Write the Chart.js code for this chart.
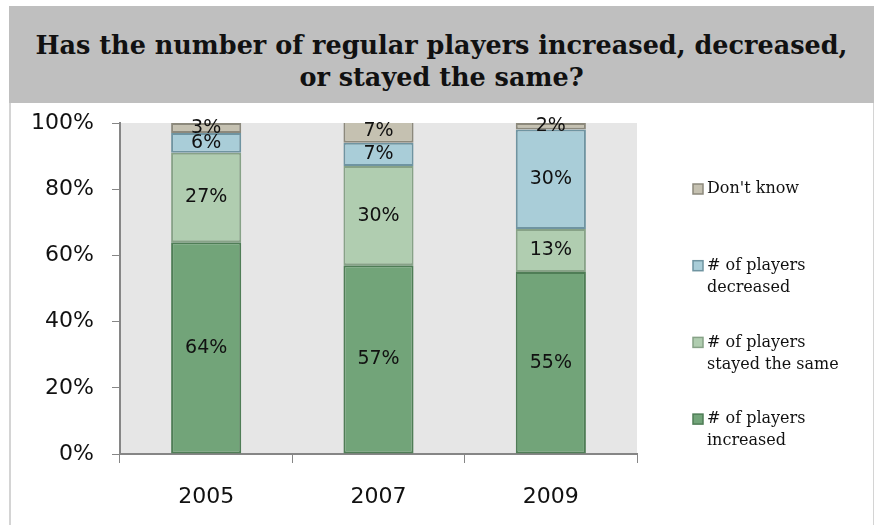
<!DOCTYPE html>
<html>
<head>
<meta charset="utf-8">
<title>Regular players</title>
<script src="https://cdn.jsdelivr.net/npm/chart.js@4.4.1/dist/chart.umd.min.js"></script>
<style>
  html, body { margin: 0; padding: 0; background: #fff; }
  #wrap { position: relative; width: 874px; height: 525px; overflow: hidden; }
  #panel {
    position: absolute; left: 9px; top: 103px; width: 862px; height: 430px;
    border-left: 2px solid #d4d4d4; border-right: 2px solid #d4d4d4;
  }
  #head {
    position: absolute; left: 9px; top: 6px; width: 865px; height: 97px;
    background: #bfbfbf; box-sizing: border-box; padding-top: 23px;
    font: bold 25.5px/32px "DejaVu Serif", serif; color: #111; text-align: center;
  }
  #myChart { position: absolute; left: 0; top: 0; }
</style>
</head>
<body>
<div id="wrap">
  <div id="panel"></div>
  <div id="head">Has the number of regular players increased, decreased,<br>or stayed the same?</div>
  <canvas id="myChart" width="874" height="525"></canvas>
</div>
<script>
var years = ['2005', '2007', '2009'];
var increased = [64, 57, 55];
var stayedSame = [27, 30, 13];
var decreased = [6, 7, 30];
var dontKnow = [3, 7, 2];
var yTicks = [0, 20, 40, 60, 80, 100];

var legendLines = {
    "Don't know": ["Don't know"],
    '# of players decreased': ['# of players', 'decreased'],
    '# of players stayed the same': ['# of players', 'stayed the same'],
    '# of players increased': ['# of players', 'increased']
};

// grey plot background
var plotBg = {
    id: 'plotBg',
    beforeDraw: function (chart) {
        var a = chart.chartArea, ctx = chart.ctx;
        ctx.save();
        ctx.fillStyle = '#e6e6e6';
        ctx.fillRect(a.left, a.top, a.right - a.left, a.bottom - a.top);
        ctx.restore();
    }
};

// percentage text in the middle of each segment
var segLabels = {
    id: 'segLabels',
    afterDatasetsDraw: function (chart) {
        var ctx = chart.ctx;
        ctx.save();
        ctx.font = '19px "DejaVu Sans"';
        ctx.fillStyle = '#111';
        ctx.textAlign = 'center';
        ctx.textBaseline = 'middle';
        chart.data.datasets.forEach(function (ds, i) {
            chart.getDatasetMeta(i).data.forEach(function (bar, j) {
                var c = bar.getCenterPoint();
                ctx.fillText(ds.data[j] + '%', c.x, c.y);
            });
        });
        ctx.restore();
    }
};

// legend on the right, top item = last series
var sideLegend = {
    id: 'sideLegend',
    afterDraw: function (chart) {
        var ctx = chart.ctx;
        var x = chart.chartArea.right + 56;
        var y0 = 189, step = 76.7, lh = 22;
        ctx.save();
        ctx.font = '16px "DejaVu Serif"';
        ctx.textBaseline = 'middle';
        ctx.textAlign = 'left';
        var sets = chart.data.datasets.slice().reverse();
        sets.forEach(function (ds, i) {
            var y = y0 + i * step;
            ctx.fillStyle = ds.backgroundColor;
            ctx.fillRect(x, y - 5, 10, 10);
            ctx.strokeStyle = ds.borderColor;
            ctx.lineWidth = 1.5;
            ctx.strokeRect(x, y - 5, 10, 10);
            ctx.fillStyle = '#111';
            legendLines[ds.label].forEach(function (t, k) {
                ctx.fillText(t, x + 14, y + k * lh);
            });
        });
        ctx.restore();
    }
};

var cvas = document.getElementById('myChart').getContext('2d');
var myChart = new Chart(cvas, {
    type: 'bar',
    data: {
        labels: years,
        datasets: [{
            label: '# of players increased',
            data: increased,
            backgroundColor: '#72a479',
            borderColor: '#4f7d56'
        }, {
            label: '# of players stayed the same',
            data: stayedSame,
            backgroundColor: '#b0cdb0',
            borderColor: '#87a287'
        }, {
            label: '# of players decreased',
            data: decreased,
            backgroundColor: '#a9cdd8',
            borderColor: '#6f94a1'
        }, {
            label: "Don't know",
            data: dontKnow,
            backgroundColor: '#c5c1b1',
            borderColor: '#8c897c'
        }]
    },
    options: {
        responsive: false,
        animation: false,
        events: [],
        datasets: {
            bar: {
                barPercentage: 0.407,
                categoryPercentage: 1,
                borderWidth: 2,
                borderSkipped: false
            }
        },
        layout: {
            padding: { top: 123, right: 237, bottom: 0, left: 0 }
        },
        plugins: {
            legend: { display: false },
            tooltip: { enabled: false },
            title: { display: false }
        },
        scales: {
            x: {
                stacked: true,
                afterFit: function (s) { s.height = 71; },
                grid: {
                    drawOnChartArea: false,
                    tickLength: 9,
                    tickColor: '#868686',
                    offset: true
                },
                border: { color: '#868686', width: 2 },
                ticks: {
                    padding: 21,
                    color: '#111',
                    font: { family: 'DejaVu Sans', size: 22 }
                }
            },
            y: {
                stacked: true,
                min: 0,
                max: 100,
                afterFit: function (s) { s.width = 120; },
                afterBuildTicks: function (s) {
                    s.ticks = yTicks.map(function (v) { return { value: v }; });
                },
                grid: {
                    drawOnChartArea: false,
                    tickLength: 8,
                    tickColor: '#868686'
                },
                border: { color: '#868686', width: 2 },
                ticks: {
                    padding: 18,
                    color: '#111',
                    font: { family: 'DejaVu Sans', size: 22 },
                    callback: function (v) { return v + '%'; }
                }
            }
        }
    },
    plugins: [plotBg, segLabels, sideLegend]
});
</script>
</body>
</html>
